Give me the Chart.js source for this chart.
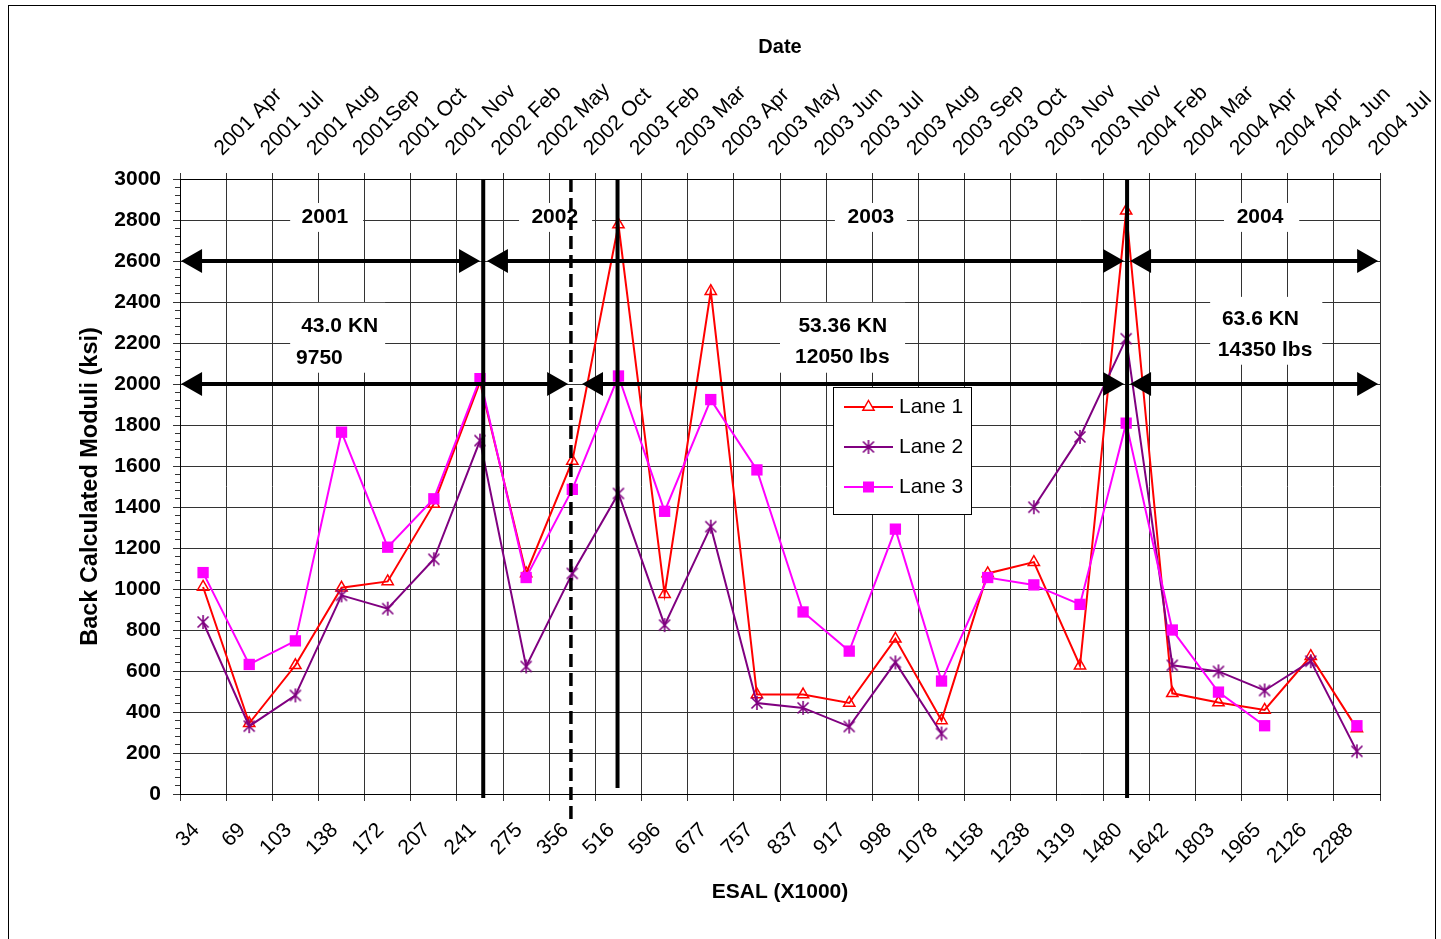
<!DOCTYPE html>
<html>
<head>
<meta charset="utf-8">
<title>Back Calculated Moduli</title>
<script src="https://cdn.jsdelivr.net/npm/chart.js@4.4.1/dist/chart.umd.min.js"></script>
<style>
    html, body { margin: 0; padding: 0; background: #fff; }
    #contenedor { position: relative; width: 1441px; height: 939px; }
</style>
</head>
<body>
<div id="contenedor"><canvas id="grafico"></canvas></div>
<script>
// ===================================== Datos =====================================
const esal = ['34', '69', '103', '138', '172', '207', '241', '275', '356', '516', '596', '677', '757',
              '837', '917', '998', '1078', '1158', '1238', '1319', '1480', '1642', '1803', '1965', '2126', '2288'];

const fechas = ['2001 Apr', '2001 Jul', '2001 Aug', '2001Sep', '2001 Oct', '2001 Nov', '2002 Feb', '2002 May',
                '2002 Oct', '2003 Feb', '2003 Mar', '2003 Apr', '2003 May', '2003 Jun', '2003 Jul', '2003 Aug',
                '2003 Sep', '2003 Oct', '2003 Nov', '2003 Nov', '2004 Feb', '2004 Mar', '2004 Apr', '2004 Apr',
                '2004 Jun', '2004 Jul'];

const lane1 = [1010, 345, 628, 1006, 1037, 1415, 2010, 1076, 1625, 2778, 975, 2453, 485,
               485, 444, 757, 359, 1076, 1131, 626, 2845, 491, 446, 410, 672, 319];
const lane2 = [839, 331, 481, 969, 904, 1145, 1724, 622, 1076, 1466, 824, 1304, 444,
               420, 329, 642, 295, null, 1399, 1742, 2221, 628, 598, 505, 648, 208];
const lane3 = [1080, 632, 747, 1765, 1204, 1440, 2026, 1056, 1486, 2039, 1379, 1924, 1581,
               888, 697, 1292, 551, 1056, 1020, 925, 1809, 800, 497, 333, null, 333];

const yMin = 0, yMax = 3000, yPaso = 200, yPasoMenor = 40;

// ============ Anotaciones (en unidades de los ejes: indice de categoria / ksi) ============
const cajas = [
    { x1: 1.887, x2: 3.468, y1: 2883, y2: 2742 },
    { x1: 6.846, x2: 8.428, y1: 2883, y2: 2742 },
    { x1: 13.69, x2: 15.25, y1: 2883, y2: 2742 },
    { x1: 22.12, x2: 23.75, y1: 2883, y2: 2742 },
    { x1: 1.887, x2: 3.945, y1: 2396, y2: 2055 },
    { x1: 12.50, x2: 15.21, y1: 2396, y2: 2055 },
    { x1: 21.82, x2: 24.25, y1: 2425, y2: 2094 }
];
const textos = [
    { texto: '2001', x: 2.64, y: 2815 },
    { texto: '2002', x: 7.62, y: 2815 },
    { texto: '2003', x: 14.47, y: 2815 },
    { texto: '2004', x: 22.90, y: 2815 },
    { texto: '43.0 KN', x: 2.96, y: 2284 },
    { texto: '9750', x: 2.52, y: 2128 },
    { texto: '53.36 KN', x: 13.86, y: 2284 },
    { texto: '12050 lbs', x: 13.85, y: 2133 },
    { texto: '63.6 KN', x: 22.91, y: 2318 },
    { texto: '14350 lbs', x: 23.01, y: 2167 }
];
const verticales = [
    { x: 6.07, desde: 3000, hasta: -19, guiones: [] },
    { x: 7.97, desde: 3000, hasta: -136, guiones: [13, 6] },
    { x: 8.98, desde: 3000, hasta: 29, guiones: [] },
    { x: 20.02, desde: 3000, hasta: -19, guiones: [] }
];
const flechas = [
    { x1: -0.477, x2: 6.00, y: 2600 },
    { x1: 6.15, x2: 19.955, y: 2600 },
    { x1: 20.085, x2: 25.46, y: 2600 },
    { x1: -0.477, x2: 7.91, y: 2000 },
    { x1: 8.21, x2: 19.955, y: 2000 },
    { x1: 20.085, x2: 25.46, y: 2000 }
];

const fuente = '"Liberation Sans", Arial, Helvetica, sans-serif';
const colorGrilla = '#333333';
const rojo = '#FF0000', violeta = '#800080', magenta = '#FF00FF';


// ============ Marcador asterisco (estrella de Excel) =========================
function crearAsterisco(color) {
    const c = document.createElement('canvas');
    c.width = 16; c.height = 16;
    const g = c.getContext('2d');
    g.strokeStyle = color;
    g.lineWidth = 1.6;
    g.beginPath();
    g.moveTo(2.5, 2.5); g.lineTo(13.5, 13.5);
    g.moveTo(13.5, 2.5); g.lineTo(2.5, 13.5);
    g.moveTo(8, 1); g.lineTo(8, 15);
    g.stroke();
    return c;
}
const asterisco = crearAsterisco(violeta);


// ============ Punta de flecha =========================
function punta(ctx, xt, yt, dir) {
    ctx.beginPath();
    ctx.moveTo(xt, yt);
    ctx.lineTo(xt - dir * 21, yt - 12);
    ctx.lineTo(xt - dir * 21, yt + 12);
    ctx.closePath();
    ctx.fill();
}


// ============ Plugin: marco, anotaciones y leyenda =========================
const anotaciones = {
    id: 'anotaciones',
    beforeDraw(chart) {
        const ctx = chart.ctx;
        ctx.save();
        ctx.fillStyle = '#fff';
        ctx.fillRect(0, 0, chart.width, chart.height);
        ctx.strokeStyle = '#000';
        ctx.lineWidth = 1;
        ctx.strokeRect(8.5, 5.5, chart.width - 14, chart.height + 20);
        ctx.restore();
    },
    afterDatasetsDraw(chart) {
        const { ctx, chartArea: ca } = chart;
        const x = chart.scales.x, y = chart.scales.y;
        ctx.save();

        // cajas blancas detras de los textos
        ctx.fillStyle = '#fff';
        cajas.forEach(c => {
            const x1 = x.getPixelForValue(c.x1), x2 = x.getPixelForValue(c.x2);
            const y1 = y.getPixelForValue(c.y1), y2 = y.getPixelForValue(c.y2);
            ctx.fillRect(x1, y1, x2 - x1, y2 - y1);
        });

        ctx.fillStyle = '#000';
        ctx.font = 'bold 21px ' + fuente;
        ctx.textAlign = 'center';
        ctx.textBaseline = 'middle';
        textos.forEach(t => ctx.fillText(t.texto, x.getPixelForValue(t.x), y.getPixelForValue(t.y)));

        // lineas verticales
        ctx.strokeStyle = '#000';
        verticales.forEach(v => {
            const px = x.getPixelForValue(v.x);
            ctx.lineWidth = v.guiones.length ? 3.5 : 4;
            ctx.setLineDash(v.guiones);
            ctx.beginPath();
            ctx.moveTo(px, y.getPixelForValue(v.desde));
            ctx.lineTo(px, y.getPixelForValue(v.hasta));
            ctx.stroke();
        });
        ctx.setLineDash([]);

        // flechas dobles
        ctx.lineWidth = 4;
        flechas.forEach(f => {
            const x1 = x.getPixelForValue(f.x1), x2 = x.getPixelForValue(f.x2);
            const py = y.getPixelForValue(f.y);
            ctx.beginPath();
            ctx.moveTo(x1 + 10, py);
            ctx.lineTo(x2 - 10, py);
            ctx.stroke();
            punta(ctx, x1, py, -1);
            punta(ctx, x2, py, 1);
        });

        // leyenda
        const lx = ca.left + 653, ly = ca.top + 208;
        ctx.fillStyle = '#fff';
        ctx.fillRect(lx, ly, 138, 127);
        ctx.strokeStyle = '#000';
        ctx.lineWidth = 1;
        ctx.strokeRect(lx + 0.5, ly + 0.5, 138, 127);

        const series = chart.data.datasets;
        series.forEach((ds, i) => {
            const ey = ly + 20 + i * 40;
            ctx.strokeStyle = ds.borderColor;
            ctx.lineWidth = 2;
            ctx.beginPath();
            ctx.moveTo(lx + 11, ey);
            ctx.lineTo(lx + 60, ey);
            ctx.stroke();
            const mx = lx + 35.5;
            if (i === 0) {
                ctx.lineWidth = 1.5;
                ctx.fillStyle = '#fff';
                ctx.beginPath();
                ctx.moveTo(mx, ey - 6.5);
                ctx.lineTo(mx + 5.6, ey + 3.25);
                ctx.lineTo(mx - 5.6, ey + 3.25);
                ctx.closePath();
                ctx.fill();
                ctx.stroke();
            } else if (i === 1) {
                ctx.drawImage(asterisco, mx - 8, ey - 8);
            } else {
                ctx.fillStyle = magenta;
                ctx.fillRect(mx - 5.5, ey - 5.5, 11, 11);
            }
            ctx.fillStyle = '#000';
            ctx.font = '21px ' + fuente;
            ctx.textAlign = 'left';
            ctx.textBaseline = 'middle';
            ctx.fillText(ds.label, lx + 66, ey);
        });

        ctx.restore();
    }
};


// ===================================== Grafico ===================================
Chart.defaults.font.family = fuente;
Chart.defaults.color = '#000';

new Chart(document.getElementById('grafico'), {
    type: 'line',
    data: {
        labels: esal,
        datasets: [
            { label: 'Lane 1', data: lane1, order: 3, borderColor: rojo, borderWidth: 2,
              pointStyle: 'triangle', pointRadius: 6.5, pointBorderColor: rojo,
              pointBackgroundColor: 'rgba(255,255,255,0)', pointBorderWidth: 1.5, tension: 0 },
            { label: 'Lane 2', data: lane2, order: 2, borderColor: violeta, borderWidth: 2,
              pointStyle: asterisco, pointRadius: 7, tension: 0, spanGaps: false },
            { label: 'Lane 3', data: lane3, order: 1, borderColor: magenta, borderWidth: 2,
              pointStyle: 'rect', pointRadius: 8, pointBorderWidth: 0,
              pointBackgroundColor: magenta, pointBorderColor: magenta, tension: 0, spanGaps: false }
        ]
    },
    options: {
        responsive: true,
        maintainAspectRatio: false,
        animation: false,
        events: [],
        layout: { padding: { left: 0, right: 61, top: 0, bottom: 0 } },
        plugins: { legend: { display: false }, tooltip: { enabled: false } },
        scales: {
            x: {
                type: 'category',
                position: 'bottom',
                offset: true,
                grid: { offset: true, color: colorGrilla, lineWidth: 1, tickLength: 7 },
                border: { color: '#000', width: 1 },
                ticks: { autoSkip: false, minRotation: 45, maxRotation: 45, labelOffset: -7, padding: 17,
                         color: '#000', font: { size: 21 } },
                title: { display: true, text: 'ESAL (X1000)', color: '#000',
                         font: { size: 21, weight: 'bold' }, padding: { top: 0, bottom: 34 } },
                afterFit: s => { s.height = 145; s.paddingLeft = 0; s.paddingRight = 0; }
            },
            x2: {
                type: 'category',
                position: 'top',
                labels: fechas,
                offset: true,
                grid: { offset: true, drawOnChartArea: false, color: colorGrilla, tickLength: 6 },
                border: { color: '#000', width: 1 },
                ticks: { autoSkip: false, minRotation: 45, maxRotation: 45, labelOffset: 33, padding: 12,
                         color: '#000', font: { size: 21 } },
                title: { display: true, text: 'Date', color: '#000',
                         font: { size: 20, weight: 'bold' }, padding: { top: 35, bottom: 0 } },
                afterFit: s => { s.height = 179; s.paddingLeft = 0; s.paddingRight = 0; }
            },
            y: {
                type: 'linear',
                position: 'left',
                weight: 1,
                min: yMin,
                max: yMax,
                grid: { color: colorGrilla, lineWidth: 1, tickLength: 7 },
                border: { color: '#000', width: 1 },
                ticks: { stepSize: yPaso, padding: 12, color: '#000', font: { size: 21, weight: 'bold' },
                         callback: v => String(v) },
                title: { display: true, text: 'Back Calculated Moduli (ksi)', color: '#000',
                         font: { size: 23.5, weight: 'bold' }, padding: { top: 76, bottom: 0 } },
                afterFit: s => { s.width = 180; s.paddingTop = 0; s.paddingBottom = 0; }
            },
            yMenor: {
                type: 'linear',
                position: 'left',
                weight: 0,
                min: yMin,
                max: yMax,
                grid: { drawOnChartArea: false, color: colorGrilla, tickLength: 5 },
                border: { display: false },
                ticks: { display: false, stepSize: yPasoMenor },
                afterFit: s => { s.width = 0; s.paddingTop = 0; s.paddingBottom = 0; }
            }
        }
    },
    plugins: [anotaciones]
});
</script>
</body>
</html>
